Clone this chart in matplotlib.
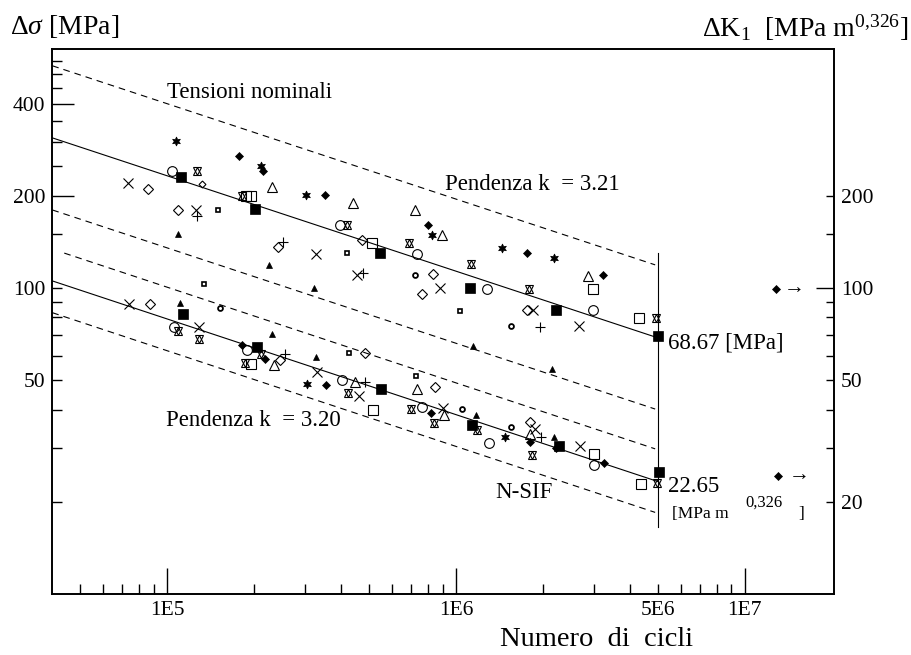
import numpy as np
import matplotlib
matplotlib.use('Agg')
import matplotlib.pyplot as plt
from matplotlib.ticker import FixedLocator, FuncFormatter

plt.rcParams['font.family'] = ['Liberation Serif', 'DejaVu Serif']
plt.rcParams['mathtext.fontset'] = 'custom'
plt.rcParams['mathtext.rm'] = 'Liberation Serif'
plt.rcParams['mathtext.it'] = 'Liberation Serif:italic'
plt.rcParams['mathtext.bf'] = 'Liberation Serif:bold'

# ---------------- data (cycles N, stress range) ----------------
sqf_N = [1.12e5, 2.01e5, 5.45e5, 1.12e6, 2.23e6, 5.00e6, 1.13e5, 2.05e5, 5.50e5, 1.14e6, 2.28e6, 5.05e6]
sqf_S = [231, 181, 130, 99.7, 84.7, 69.8, 82.2, 64.2, 46.6, 35.6, 30.4, 25.1]

sqo_N = [1.87e5, 1.95e5, 5.11e5, 2.98e6, 4.31e6, 1.95e5, 5.17e5, 3.00e6, 4.39e6]
sqo_S = [200, 200, 140, 98.9, 79.7, 56.4, 39.9, 28.6, 22.8]

cir_N = [1.04e5, 3.96e5, 7.31e5, 1.28e6, 2.98e6, 1.06e5, 1.89e5, 4.03e5, 7.61e5, 1.30e6, 3.01e6]
cir_S = [240, 160, 129, 99.3, 84.7, 74.2, 62.5, 49.9, 40.8, 31.1, 26.4]

dia_N = [8.60e4, 1.09e5, 2.42e5, 4.73e5, 8.35e5, 7.61e5, 1.76e6, 8.71e4, 2.46e5, 4.84e5, 8.46e5, 1.80e6]
dia_S = [210, 180, 136, 143, 111, 95.4, 84.7, 88.5, 58.1, 61.1, 47.3, 36.5]
dias_N = [1.32e5]
dias_S = [218]

dfil_N = [1.78e5, 2.15e5, 3.52e5, 8.02e5, 1.76e6, 3.22e6, 1.81e5, 2.18e5, 3.55e5, 8.19e5, 1.80e6, 2.23e6, 3.26e6]
dfil_S = [270, 240, 201, 160, 130, 110, 65.1, 58.4, 48.2, 38.9, 31.3, 29.9, 26.7]
runout_N = [1.28e7, 1.31e7]
runout_S = [99.2, 24.3]

trf_N = [1.09e5, 2.26e5, 3.22e5, 1.15e6, 2.15e6, 1.11e5, 2.30e5, 3.27e5, 1.17e6, 2.19e6]
trf_S = [150, 119, 99.7, 64.6, 54.3, 89.5, 70.9, 59.5, 38.3, 32.6]

tro_N = [2.31e5, 4.41e5, 7.21e5, 8.92e5, 2.87e6, 2.34e5, 4.49e5, 7.33e5, 9.07e5, 1.80e6]
tro_S = [214, 190, 180, 149, 109, 56.0, 49.3, 46.8, 38.5, 33.2]

crs_N = [7.33e4, 1.26e5, 3.27e5, 4.56e5, 8.82e5, 1.85e6, 2.67e6, 7.39e4, 1.29e5, 3.30e5, 4.61e5, 9.02e5, 1.88e6, 2.69e6]
crs_S = [220, 180, 129, 110, 99.7, 84.7, 75.2, 88.6, 74.7, 52.9, 44.3, 40.4, 34.6, 30.5]

pls_N = [1.27e5, 2.51e5, 4.76e5, 1.95e6, 2.56e5, 4.84e5, 1.97e6]
pls_S = [172, 141, 112, 74.3, 61.0, 49.1, 32.6]

ssq_N = [1.50e5, 4.18e5, 1.03e6, 1.34e5, 4.26e5, 7.27e5]
ssq_S = [180, 130, 84.0, 103, 61.1, 51.7]

sci_N = [7.21e5, 1.55e6, 1.05e6, 1.55e6, 1.52e5]
sci_S = [110, 74.8, 40.3, 35.1, 85.6]

stf_N = [1.07e5, 2.11e5, 3.02e5, 8.24e5, 1.45e6, 2.19e6, 3.05e5, 1.48e6]
stf_S = [302, 251, 201, 149, 135, 125, 48.5, 32.6]

sto_N = [1.27e5, 1.81e5, 4.19e5, 6.89e5, 1.13e6, 1.79e6, 4.95e6, 1.09e5, 1.29e5, 1.86e5,
         2.11e5, 4.24e5, 6.98e5, 8.37e5, 1.18e6, 1.83e6, 4.97e6]
sto_S = [240, 200, 160, 140, 120, 98.9, 79.9, 72.3, 68.3, 56.7,
         60.6, 45.2, 40.2, 36.3, 34.3, 28.4, 23.0]

# design curves
N_ref = 5e6
N_lo = 4e4
N_dash_end = 4.9e6
nom_end, nom_k, nom_band = 68.67, 3.21, 1.72
nsif_end, nsif_k, nsif_band = 23.3, 3.20, 1.27
nsif_upper_start = 4.4e4
vline_S = [16.6, 130]

x_major = [1e5, 1e6, 1e7]
x_major_lbl = ['1E5', '1E6', '1E7']
x_minor = [5e4, 6e4, 7e4, 8e4, 9e4, 2e5, 3e5, 4e5, 5e5, 6e5, 7e5, 8e5, 9e5,
           2e6, 3e6, 4e6, 5e6, 6e6, 7e6, 8e6, 9e6]
x_minor_lbl = {5e6: '5E6'}
yl_major = [200, 400]
yl_minor = [20, 30, 40, 50, 60, 70, 80, 90, 100, 150, 250, 300, 350, 450, 500, 550]
yl_lbl = {400: '400', 200: '200', 100: '100', 50: '50'}
yr_major = [100]
yr_minor = [20, 30, 40, 50, 60, 70, 80, 90, 150, 200]
yr_lbl = {200: '200', 100: '100', 50: '50', 20: '20'}

# ---------------- figure ----------------
W, H = 912, 655
fig = plt.figure(figsize=(W / 100, H / 100), dpi=100)
ax = fig.add_axes([52.3 / W, 1 - 594.3 / H, 781.7 / W, 545.3 / H])
ax.set_xscale('log')
ax.set_yscale('log')
ax.set_xlim(4e4, 2.04e7)
ax.set_ylim(9.97, 603)


def curve(end, k, N):
    N = np.asarray(N, dtype=float)
    return end * (N_ref / N) ** (1.0 / k)


dash = (0, (6, 4.5))
lw = 0.8
Nl = np.array([N_lo, N_ref])
Nd = np.array([N_lo, N_dash_end])
ax.plot(Nl, curve(nom_end, nom_k, Nl), color='k', lw=lw, zorder=2)
ax.plot(Nd, curve(nom_end, nom_k, Nd) * nom_band, color='k', lw=lw, ls=dash, zorder=2)
ax.plot(Nd, curve(nom_end, nom_k, Nd) / nom_band, color='k', lw=lw, ls=dash, zorder=2)
ax.plot(Nl, curve(nsif_end, nsif_k, Nl), color='k', lw=lw, zorder=2)
Nu = np.array([nsif_upper_start, N_dash_end])
ax.plot(Nu, curve(nsif_end, nsif_k, Nu) * nsif_band, color='k', lw=lw, ls=dash, zorder=2)
ax.plot(Nd, curve(nsif_end, nsif_k, Nd) / nsif_band, color='k', lw=lw, ls=dash, zorder=2)
ax.plot([N_ref, N_ref], vline_S, color='k', lw=lw, zorder=2)


def pts(N, S, **kw):
    ax.plot(N, S, linestyle='none', color='k', zorder=3, **kw)


pts(sqf_N, sqf_S, marker='s', ms=6.5, mfc='k', mew=0.5)
pts(sqo_N, sqo_S, marker='s', ms=7, mfc='none', mew=0.8)
pts(cir_N, cir_S, marker='o', ms=7, mfc='none', mew=0.8)
pts(dia_N, dia_S, marker='D', ms=5, mfc='none', mew=0.8)
pts(dias_N, dias_S, marker='D', ms=3.5, mfc='none', mew=0.8)
pts(dfil_N, dfil_S, marker='D', ms=3.6, mfc='k', mew=0.5)
pts(runout_N, runout_S, marker='D', ms=3.6, mfc='k', mew=0.5)
pts(trf_N, trf_S, marker='^', ms=4.5, mfc='k', mew=0.5)
pts(tro_N, tro_S, marker='^', ms=6.5, mfc='none', mew=0.8)
pts(crs_N, crs_S, marker='x', ms=7, mew=0.8)
pts(pls_N, pls_S, marker='+', ms=6.5, mew=0.8)
pts(ssq_N, ssq_S, marker='s', ms=3.5, mfc='none', mew=1.2)
pts(sci_N, sci_S, marker='o', ms=3.5, mfc='none', mew=1.3)
pts(stf_N, stf_S, marker=(6, 1, 0), ms=6.5, mfc='k', mew=0.5)
pts(sto_N, sto_S, marker='^', ms=5.5, mfc='none', mew=0.8)
pts(sto_N, sto_S, marker='v', ms=5.5, mfc='none', mew=0.8)

# ---------------- axes / ticks ----------------
for s in ax.spines.values():
    s.set_linewidth(1.2)

ax.xaxis.set_major_locator(FixedLocator(x_major))
ax.xaxis.set_major_formatter(FuncFormatter(lambda v, p: x_major_lbl[x_major.index(v)] if v in x_major else ''))
ax.xaxis.set_minor_locator(FixedLocator(x_minor))
ax.xaxis.set_minor_formatter(FuncFormatter(lambda v, p: next((t for k, t in x_minor_lbl.items() if abs(v / k - 1) < 1e-6), '')))

ax.yaxis.set_major_locator(FixedLocator(yl_major))
ax.yaxis.set_minor_locator(FixedLocator(yl_minor))
ax.yaxis.set_major_formatter(FuncFormatter(lambda v, p: yl_lbl.get(int(round(v)), '')))
ax.yaxis.set_minor_formatter(FuncFormatter(lambda v, p: yl_lbl.get(int(round(v)), '')))

ax.tick_params(axis='x', which='major', direction='in', length=18.7, width=1.0,
               labelsize=15.5, pad=5, top=False)
ax.tick_params(axis='x', which='minor', direction='in', length=7.2, width=1.0,
               labelsize=15.5, pad=5, top=False)
ax.tick_params(axis='y', which='major', direction='in', length=16, width=1.0,
               labelsize=15.5, pad=5, right=False)
ax.tick_params(axis='y', which='minor', direction='in', length=7, width=1.0,
               labelsize=15.5, pad=5, right=False)

ax2 = ax.twinx()
ax2.set_yscale('log')
ax2.set_ylim(ax.get_ylim())
ax2.yaxis.set_major_locator(FixedLocator(yr_major))
ax2.yaxis.set_minor_locator(FixedLocator(yr_minor))
ax2.yaxis.set_major_formatter(FuncFormatter(lambda v, p: yr_lbl.get(int(round(v)), '')))
ax2.yaxis.set_minor_formatter(FuncFormatter(lambda v, p: yr_lbl.get(int(round(v)), '')))
ax2.tick_params(axis='y', which='major', direction='in', length=13, width=1.0,
                labelsize=15.5, pad=5, left=False, right=True)
ax2.tick_params(axis='y', which='minor', direction='in', length=5.8, width=1.0,
                labelsize=15.5, pad=5, left=False, right=True)
for s in ax2.spines.values():
    s.set_linewidth(1.2)

# ---------------- texts ----------------
def axt(px, py, s, **kw):
    ax.text((px - 52.3) / 781.7, (594.3 - py) / 545.3, s, transform=ax.transAxes, **kw)


axt(167, 92, 'Tensioni nominali', fontsize=16.5, ha='left', va='center')
axt(445, 185, 'Pendenza k  = 3.21', fontsize=16.5, ha='left', va='center')
axt(166, 420, 'Pendenza k  = 3.20', fontsize=16.5, ha='left', va='center')
axt(668, 343, '68.67 [MPa]', fontsize=16.5, ha='left', va='center')
axt(668, 487, '22.65', fontsize=16.5, ha='left', va='center')
axt(672, 514, '[MPa m', fontsize=12.5, ha='left', va='center')
axt(745, 503, '0,326', fontsize=12, ha='left', va='center')
axt(798, 514, ']', fontsize=12.5, ha='left', va='center')
axt(495, 492, 'N-SIF', fontsize=16.5, ha='left', va='center')
axt(784, 289, '→', fontsize=15, ha='left', va='center')
axt(789, 476, '→', fontsize=15, ha='left', va='center')

fig.text(10 / W, 1 - 27 / H, r'Δ$\sigma$ [MPa]', fontsize=20, ha='left', va='center')
fig.text(908 / W, 1 - 28 / H, r'ΔK$_1$  [MPa m$^{0{,}326}$]', fontsize=20, ha='right', va='center')
fig.text(596 / W, 1 - 640 / H, 'Numero  di  cicli', fontsize=20.5, ha='center', va='center')

fig.savefig('out.png', dpi=100)
